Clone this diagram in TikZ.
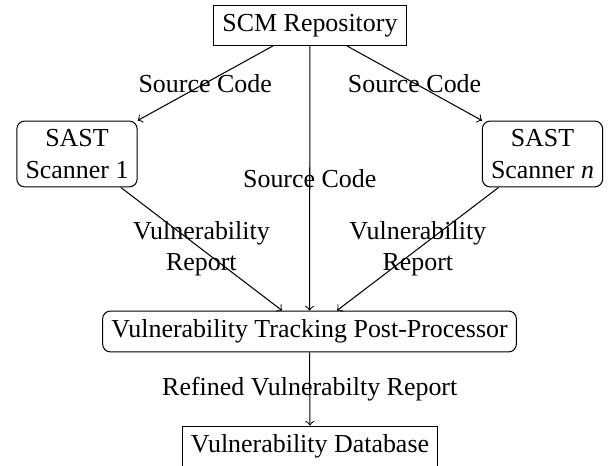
\documentclass[tikz,border=0pt]{standalone}
\usepackage{fontspec}
\setmainfont{Liberation Serif}
\begin{document}
\begin{tikzpicture}[x=0.3857pt, y=-0.3857pt,
  squarebox/.style={draw, rectangle},
  roundbox/.style={draw, rectangle, rounded corners=3pt, align=center},
  flow/.style={->}]
\useasboundingbox (0,0) rectangle (608,466);
\node[squarebox] (scm) at (310,25.5) {SCM Repository};
\node[roundbox] (scanA) at (77,154) {SAST\\Scanner 1};
\node[roundbox] (scanN) at (542.5,154) {SAST\\Scanner \textit{n}};
\node[roundbox] (post) at (309.5,331.5) {Vulnerability Tracking Post-Processor};
\node[squarebox] (vdb) at (310,446.5) {Vulnerability Database};
\draw[flow] (scm) -- node[midway] {Source Code} (scanA);
\draw[flow] (scm) -- node[midway] {Source Code} (scanN);
\draw[flow] (scm) -- node[midway] {Source Code} (post);
\draw[flow] (scanA) -- node[midway, align=center] {Vulnerability\\Report} (post);
\draw[flow] (scanN) -- node[midway, align=center] {Vulnerability\\Report} (post);
\draw[flow] (post) -- node[midway] {Refined Vulnerabilty Report} (vdb);
\end{tikzpicture}
\end{document}
